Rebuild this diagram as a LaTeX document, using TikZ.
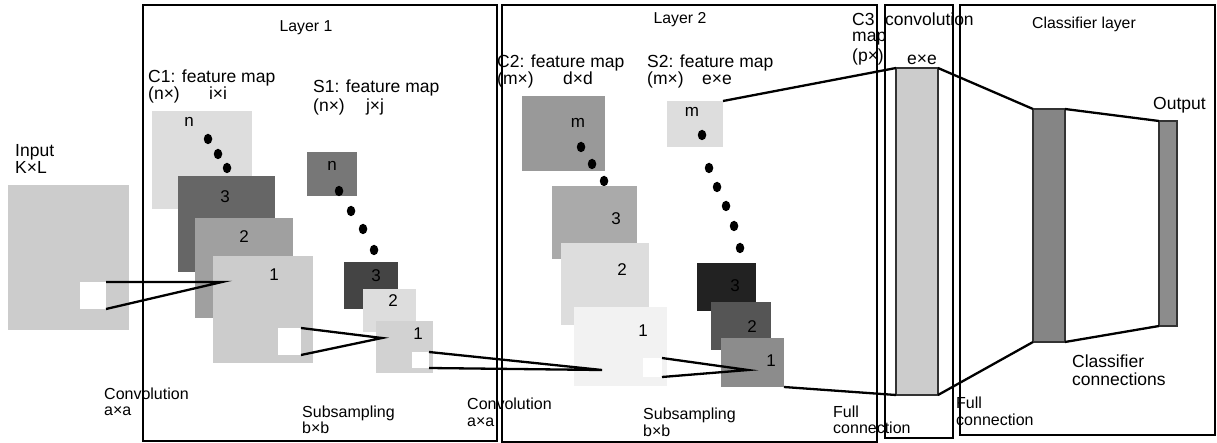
\documentclass[tikz,border=0pt]{standalone}
\usepackage{fontspec}
\setmainfont{Liberation Sans}
\usetikzlibrary{shapes.geometric}
\definecolor{gCC}{HTML}{CCCCCC}
\definecolor{gDD}{HTML}{DDDDDD}
\definecolor{g66}{HTML}{666666}
\definecolor{gA0}{HTML}{A0A0A0}
\definecolor{g77}{HTML}{777777}
\definecolor{g44}{HTML}{444444}
\definecolor{gD0}{HTML}{D2D2D2}
\definecolor{g99}{HTML}{999999}
\definecolor{gAA}{HTML}{AAAAAA}
\definecolor{gF2}{HTML}{F2F2F2}
\definecolor{g22}{HTML}{222222}
\definecolor{g55}{HTML}{555555}
\definecolor{g8C}{HTML}{8C8C8C}
\definecolor{g88}{HTML}{858585}
\begin{document}
\begin{tikzpicture}[x=1pt,y=-1pt,
  lbl/.style={anchor=base west,inner sep=0pt,font=\fontsize{17.5}{19}\selectfont},
  sm/.style={anchor=base west,inner sep=0pt,font=\fontsize{16}{18}\selectfont},
  ttl/.style={anchor=base,inner sep=0pt,font=\fontsize{15.8}{18}\selectfont},
  num/.style={anchor=base,inner sep=0pt,font=\fontsize{17}{19}\selectfont},
  frame/.style={draw=black,line width=2.2pt},
  fmap/.style={anchor=north west,inner sep=0pt,outer sep=0pt,draw=none},
  bar/.style={anchor=north west,inner sep=0pt,outer sep=0pt,draw=black!80,line width=1.2pt},
  dot/.style={fill=black,draw=none,ellipse,minimum width=8.5pt,minimum height=10.5pt,inner sep=0pt},
  conn/.style={line width=2.3pt}]
\useasboundingbox (0,0) rectangle (1217,443);
% frames
\draw[frame] (143,5) rectangle (497,441);
\draw[frame] (502,5) rectangle (877,442);
\draw[frame] (885,5) rectangle (953,438);
\draw[frame] (960,5) rectangle (1215,435);
% titles
\node[ttl] (t1) at (306,32) {Layer 1};
\node[ttl] (t2) at (680,24) {Layer 2};
\node[ttl] (t3) at (1084,29) {Classifier layer};
% input
\node[fmap,fill=gCC,minimum width=121pt,minimum height=145pt] (inp) at (8,185) {};
\node[fmap,fill=white,minimum width=26pt,minimum height=27pt] (w0) at (80,282) {};
\node[lbl] (inl1) at (15,157) {Input};
\node[lbl] (inl2) at (15,174) {K×L};
% C1 maps
\node[fmap,fill=gDD,minimum width=100pt,minimum height=98pt] (c1n) at (152,111) {};
\node[num] (c1nl) at (189,127) {n};
\node[dot] (d11) at (208,139) {};
\node[dot] (d12) at (218,154) {};
\node[dot] (d13) at (227,168) {};
\node[fmap,fill=g66,minimum width=97pt,minimum height=96pt] (c13) at (178,176) {};
\node[num] (c13l) at (225,203) {3};
\node[fmap,fill=gA0,minimum width=98pt,minimum height=100pt] (c12) at (195,218) {};
\node[num] (c12l) at (244,243) {2};
\node[fmap,fill=gCC,minimum width=100pt,minimum height=107pt] (c11) at (213,256) {};
\node[num] (c11l) at (274,281) {1};
\node[fmap,fill=white,minimum width=23pt,minimum height=27pt] (w1) at (278,328) {};
\node[lbl] (c1a) at (148,83) {C1: feature map};
\node[lbl] (c1b) at (148,100) {(n×)};
\node[lbl,anchor=base] (c1c) at (218,100) {i×i};
% S1 maps
\node[fmap,fill=g77,minimum width=50pt,minimum height=44pt] (s1n) at (307,152) {};
\node[num] (s1nl) at (332,171) {n};
\node[dot] (d21) at (339,191) {};
\node[dot] (d22) at (351,211) {};
\node[dot] (d23) at (363,229) {};
\node[dot] (d24) at (374,250) {};
\node[fmap,fill=g44,minimum width=54pt,minimum height=47pt] (s13) at (344,262) {};
\node[num] (s13l) at (376,282) {3};
\node[fmap,fill=gDD,minimum width=53pt,minimum height=43pt] (s12) at (363,289) {};
\node[num] (s12l) at (393,307) {2};
\node[fmap,fill=gD0,minimum width=57pt,minimum height=52pt] (s11) at (376,321) {};
\node[num] (s11l) at (418,339) {1};
\node[fmap,fill=white,minimum width=17pt,minimum height=16pt] (w2) at (412,352) {};
\node[lbl] (s1a) at (313,93) {S1: feature map};
\node[lbl] (s1b) at (313,112) {(n×)};
\node[lbl,anchor=base] (s1c) at (375,112) {j×j};
% C2 maps
\node[fmap,fill=g99,minimum width=83pt,minimum height=75pt] (c2m) at (522,96) {};
\node[num] (c2ml) at (578,128) {m};
\node[dot] (d31) at (581,147) {};
\node[dot] (d32) at (592,164) {};
\node[dot] (d33) at (604,181) {};
\node[fmap,fill=gAA,minimum width=85pt,minimum height=73pt] (c23) at (552,186) {};
\node[num] (c23l) at (616,225) {3};
\node[fmap,fill=gDD,minimum width=88pt,minimum height=82pt] (c22) at (561,243) {};
\node[num] (c22l) at (622,276) {2};
\node[fmap,fill=gF2,minimum width=93pt,minimum height=79pt] (c21) at (574,307) {};
\node[num] (c21l) at (643,337) {1};
\node[fmap,fill=white,minimum width=19pt,minimum height=19pt] (w3) at (643,358) {};
\node[lbl] (c2a) at (497,68) {C2: feature map};
\node[lbl] (c2b) at (497,85) {(m×)};
\node[lbl,anchor=base] (c2c) at (578,85) {d×d};
% S2 maps
\node[fmap,fill=gDD,minimum width=56pt,minimum height=46pt] (s2m) at (667,101) {};
\node[num] (s2ml) at (692,117) {m};
\node[dot] (d41) at (702,135) {};
\node[dot] (d42) at (709,168) {};
\node[dot] (d43) at (717,187) {};
\node[dot] (d44) at (726,206) {};
\node[dot] (d45) at (734,226) {};
\node[dot] (d46) at (740,248) {};
\node[fmap,fill=g22,minimum width=59pt,minimum height=48pt] (s23) at (697,263) {};
\node[num] (s23l) at (735,292) {3};
\node[fmap,fill=g55,minimum width=60pt,minimum height=48pt] (s22) at (711,302) {};
\node[num] (s22l) at (752,332) {2};
\node[fmap,fill=g8C,minimum width=63pt,minimum height=49pt] (s21) at (721,338) {};
\node[num] (s21l) at (771,366) {1};
\node[lbl] (s2a) at (647,68) {S2: feature map};
\node[lbl] (s2b) at (647,85) {(m×)};
\node[lbl,anchor=base] (s2c) at (717,85) {e×e};
% C3 and classifier
\node[bar,fill=gCC,minimum width=42pt,minimum height=327pt] (c3) at (896,68) {};
\node[lbl,anchor=base] (c3e) at (922,65) {e×e};
\node[lbl] (c3a) at (852,26) {C3};
\node[lbl] (c3b) at (885,26) {convolution};
\node[lbl] (c3c) at (852,42) {map};
\node[lbl] (c3d) at (852,62) {(p×)};
\node[bar,fill=g88,minimum width=32pt,minimum height=233pt] (hid) at (1033,109) {};
\node[bar,fill=g8C,minimum width=18pt,minimum height=205pt] (out) at (1159,121) {};
\node[lbl] (outl) at (1153,110) {Output};
\node[lbl] (cc1) at (1072,367) {Classifier};
\node[lbl] (cc2) at (1072,385) {connections};
% bottom labels
\node[sm] (cv1) at (104,399) {Convolution};
\node[sm] (cv1b) at (104,415) {a×a};
\node[sm] (sb1) at (302,417) {Subsampling};
\node[sm] (sb1b) at (302,433) {b×b};
\node[sm] (cv2) at (467,409) {Convolution};
\node[sm] (cv2b) at (467,426) {a×a};
\node[sm] (sb2) at (643,419) {Subsampling};
\node[sm] (sb2b) at (643,436) {b×b};
\node[sm] (fc1) at (833,417) {Full};
\node[sm] (fc1b) at (833,433) {connection};
\node[sm] (fc2) at (956,408) {Full};
\node[sm] (fc2b) at (956,425) {connection};
% convergence points
\coordinate (p1) at (222,282);
\coordinate (p2) at (382,338);
\coordinate (p3) at (602,370);
\coordinate (p4) at (748,370);
% connectors
\draw[conn] (w0.north east) -- (p1) -- (w0.south east);
\draw[conn] (w1.north east) -- (p2) -- (w1.south east);
\draw[conn] (w2.north east) -- (p3) -- (w2.south east);
\draw[conn] (w3.north east) -- (p4) -- (w3.south east);
\draw[conn] (s2m.north east) -- (c3.north west);
\draw[conn] (s21.south east) -- (c3.south west);
\draw[conn] (c3.north east) -- (hid.north west);
\draw[conn] (c3.south east) -- (hid.south west);
\draw[conn] (hid.north east) -- (out.north west);
\draw[conn] (hid.south east) -- (out.south west);
\end{tikzpicture}
\end{document}
